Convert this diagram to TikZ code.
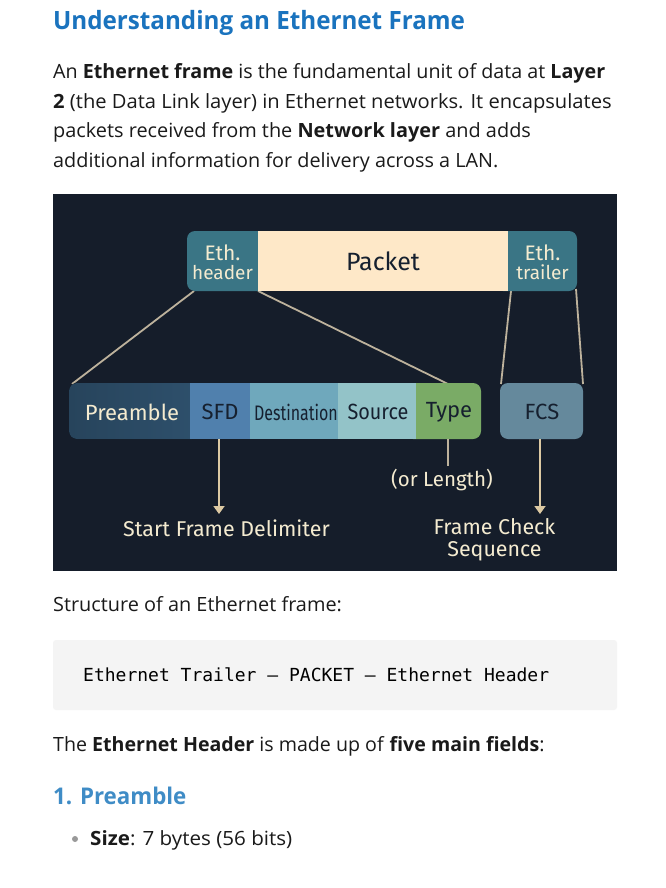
\documentclass[tikz,border=0pt]{standalone}
\usepackage{fontspec}
\setmainfont{Open Sans}
\newfontfamily\diagfont{Fira Sans}
\newfontfamily\codefont{DejaVu Sans Mono}
\usetikzlibrary{arrows.meta}
\definecolor{panel}{HTML}{151D2A}
\definecolor{teal}{HTML}{3A7585}
\definecolor{packetc}{HTML}{FEE8C8}
\definecolor{preamblec}{HTML}{2E506C}
\definecolor{sfdc}{HTML}{5080AD}
\definecolor{destc}{HTML}{6FA8BC}
\definecolor{sourcec}{HTML}{93C3C8}
\definecolor{typec}{HTML}{7AAB66}
\definecolor{fcsc}{HTML}{65899C}
\definecolor{linec}{HTML}{BDB29C}
\definecolor{arrowc}{HTML}{DCC9A3}
\definecolor{lighttext}{HTML}{F4EBD0}
\definecolor{darktext}{HTML}{16202F}
\definecolor{bodytext}{HTML}{1A1A1A}
\definecolor{titlec}{HTML}{1A73BE}
\definecolor{headc}{HTML}{3F8CC6}
\newcommand{\fsz}[1]{\fontsize{#1pt}{#1pt}\selectfont}
\tikzset{
  body/.style={anchor=base west,inner sep=0pt,text=bodytext,font=\fsz{19.6}},
  cell/.style={inner sep=0pt,anchor=center,font=\diagfont\fsz{22}},
  lbl/.style={inner sep=0pt,align=center,text=lighttext,font=\diagfont\fsz{21.4}},
  twoline/.style={inner sep=0pt,align=center,text=lighttext,font=\diagfont\fsz{21}},
  conn/.style={draw=linec,line width=1.8pt},
  arr/.style={draw=arrowc,line width=1.8pt,-{Triangle[length=8pt,width=11pt]}},
}
\begin{document}
\begin{tikzpicture}[x=1pt,y=-1pt]
\useasboundingbox (0,0) rectangle (666,888);
\fill[white] (0,0) rectangle (666,888);
\node[body,text=titlec,font=\bfseries\fsz{25.2},xscale=.96] (title) at (53,29.5) {Understanding an Ethernet Frame};
\node[body,xscale=1.005] (p1) at (53,78.5) {An \textbf{Ethernet frame} is the fundamental unit of data at \textbf{Layer}};
\node[body,xscale=1.028] (p2) at (53,108.5) {\textbf{2} (the Data Link layer) in Ethernet networks. It encapsulates};
\node[body,xscale=1.015] (p3) at (53,137.5) {packets received from the \textbf{Network layer} and adds};
\node[body,xscale=1.011] (p4) at (53,167.5) {additional information for delivery across a LAN.};
% panel
\fill[panel] (53,194) rectangle (617,571);
% connectors sit under boxes
\coordinate (hl) at (194,291);
\coordinate (hr) at (258,291);
\coordinate (tl) at (511,291);
\coordinate (tr) at (576,289);
\coordinate (bl) at (72,384);
\coordinate (br) at (448,384);
\coordinate (fl) at (501,384);
\coordinate (fr) at (583,384);
\draw[conn] (hl) -- (bl);
\draw[conn] (hr) -- (br);
\draw[conn] (tl) -- (fl);
\draw[conn] (tr) -- (fr);
% top bar
\fill[teal,rounded corners=8pt] (187,231) rectangle (270,291);
\fill[teal,rounded corners=8pt] (495,231) rectangle (577,291);
\node[fill=packetc,minimum width=250pt,minimum height=60pt,inner sep=0pt,text=darktext,font=\diagfont\fsz{25}] (packet) at (383,261) {Packet};
\node[twoline] (hdr) at (222.5,262) {Eth.\\[-2pt]\fsz{19}header};
\node[twoline] (trl) at (542.5,262) {Eth.\\[-2pt]\fsz{19}trailer};
% bottom bar
\fill[left color=preamblec!85!black,right color=preamblec,rounded corners=8pt] (69,383) rectangle (200,439);
\fill[typec,rounded corners=8pt] (405,383) rectangle (481,439);
\node[fill=sfdc,minimum width=60pt,minimum height=56pt,inner sep=0pt] (sfdbg) at (220,411) {};
\node[fill=destc,minimum width=88pt,minimum height=56pt,inner sep=0pt] (destbg) at (294,411) {};
\node[fill=sourcec,minimum width=78pt,minimum height=56pt,inner sep=0pt] (srcbg) at (377,411) {};
\fill[fcsc,rounded corners=8pt] (500,383) rectangle (583,439);
\node[cell,text=lighttext] (pre) at (132,412) {Preamble};
\node[cell,text=darktext] (sfd) at (220,412) {SFD};
\node[cell,text=darktext,font=\diagfont\fsz{21},xscale=.76] (dest) at (296,412) {Destination};
\node[cell,text=darktext,font=\diagfont\fsz{22},xscale=.9] (src) at (378,412) {Source};
\node[cell,text=darktext] (typ) at (449,412) {Type};
\node[cell,text=darktext] (fcs) at (542,412) {FCS};
% lower labels
\coordinate (sfdb) at (219,439);
\coordinate (sfde) at (219,514);
\coordinate (typb) at (448,439);
\coordinate (typee) at (448,466);
\coordinate (fcsb) at (540,439);
\coordinate (fcse) at (540,514);
\draw[arr] (sfdb) -- (sfde);
\draw[conn] (typb) -- (typee);
\draw[arr] (fcsb) -- (fcse);
\node[lbl] (sfdl) at (226.5,528) {Start Frame Delimiter};
\node[lbl,font=\diagfont\fsz{20.5}] (lenl) at (442,480) {(or Length)};
\node[lbl,align=center] (fcsl) at (494.5,539.5) {Frame Check\\[1pt]Sequence};
% below
\node[body,xscale=1.014] (st) at (53,611.5) {Structure of an Ethernet frame:};
\fill[black!4.5,rounded corners=3pt] (53,640) rectangle (617,710);
\node[anchor=base west,inner sep=0pt,text=black,font=\codefont\fsz{18}] (code) at (83,681) {Ethernet Trailer — PACKET — Ethernet Header};
\node[body] (eh) at (53,751.5) {The \textbf{Ethernet Header} is made up of \textbf{five main fields}:};
\node[body,text=headc,font=\bfseries\fsz{23},xscale=.97] (h1) at (53,804) {1. Preamble};
\fill[black!40] (75,839) circle (3pt);
\node[body,xscale=1.05] (sz) at (90,845) {\textbf{Size}: 7 bytes (56 bits)};
\end{tikzpicture}
\end{document}
